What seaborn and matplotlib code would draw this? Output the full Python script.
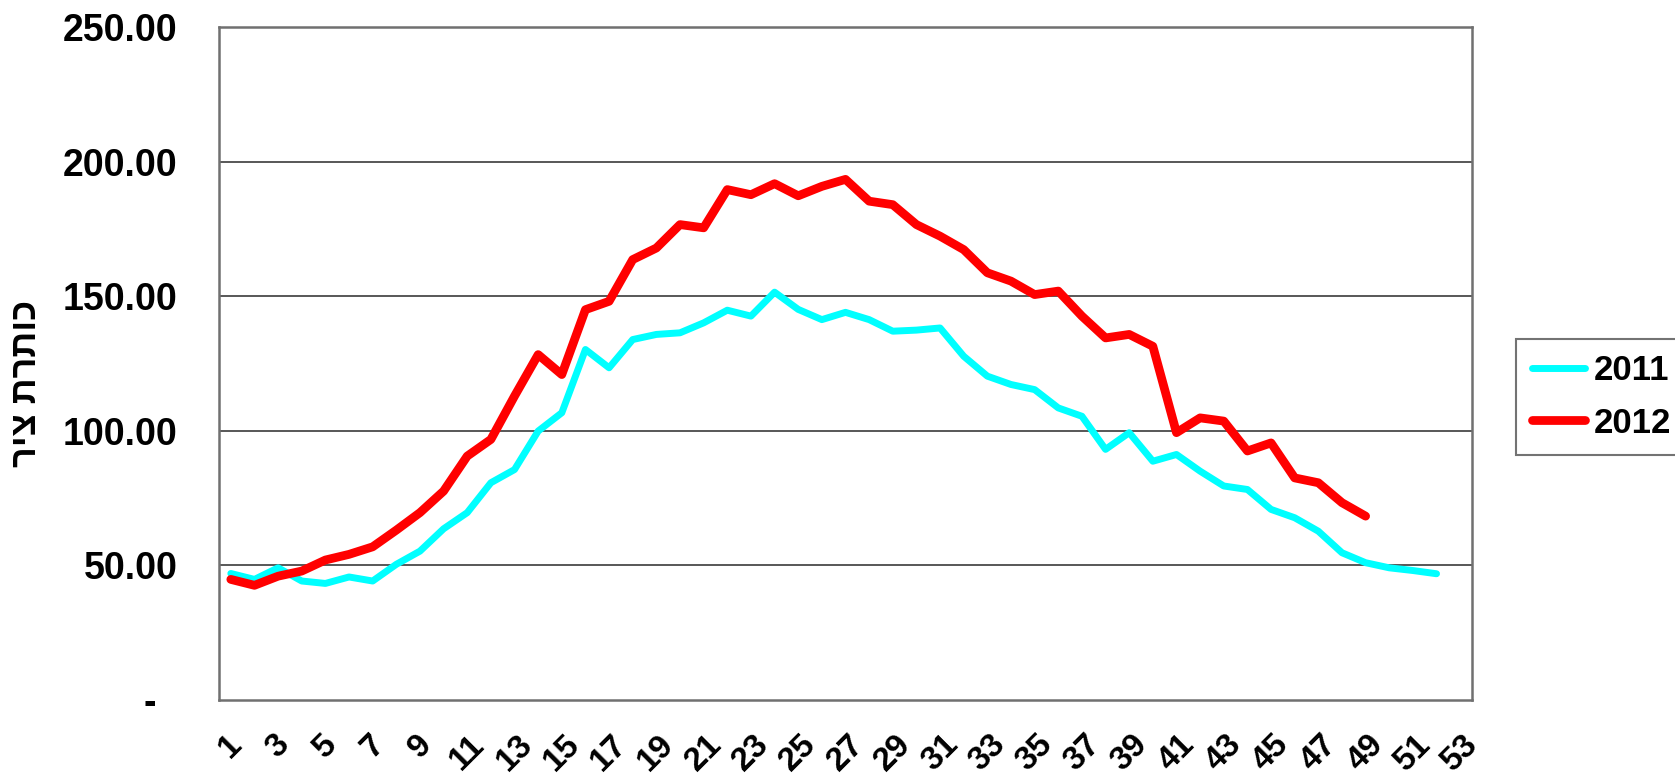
import numpy as np
import pandas as pd
import matplotlib
matplotlib.use("Agg")
import matplotlib.pyplot as plt
import seaborn as sns

weeks_2011 = list(range(1, 53))
values_2011 = [47.0, 44.8, 49.1, 44.2, 43.3, 45.7, 44.2, 50.4, 55.3, 63.6,
               69.6, 80.7, 85.6, 99.9, 106.7, 130.2, 123.4, 133.9, 135.8, 136.4,
               140.1, 144.8, 142.6, 151.5, 145.1, 141.3, 144.0, 141.3, 137.0, 137.4,
               138.2, 127.7, 120.3, 117.2, 115.3, 108.5, 105.4, 93.1, 99.3, 88.7,
               91.2, 85.0, 79.5, 78.2, 70.8, 67.7, 62.7, 54.7, 51.0, 49.1,
               48.1, 46.9]
weeks_2012 = list(range(1, 50))
values_2012 = [44.8, 42.6, 46.0, 47.9, 52.0, 54.1, 56.9, 63.1, 69.6, 77.6,
               90.6, 96.8, 112.9, 128.3, 120.9, 145.0, 148.1, 163.6, 167.9, 176.6,
               175.4, 189.6, 187.7, 191.8, 187.3, 190.8, 193.4, 185.3, 184.0, 176.6,
               172.3, 167.3, 158.7, 155.6, 150.6, 151.9, 142.6, 134.5, 135.8, 131.4,
               99.3, 104.8, 103.6, 92.5, 95.5, 82.5, 80.7, 73.3, 68.3]
series_names = ["2011", "2012"]
series_colors = ["#00FFFF", "#FF0000"]
x_tick_labels = [str(i) for i in range(1, 54, 2)]
y_ticks = [0, 50, 100, 150, 200, 250]
y_tick_labels = ["-  ", "50.00", "100.00", "150.00", "200.00", "250.00"]
y_title = "כותרת ציר"

sns.set_theme(style="white")
plt.rcParams["font.family"] = ["Liberation Sans", "DejaVu Sans"]
plt.rcParams["font.weight"] = "bold"
plt.rcParams["text.color"] = "black"
plt.rcParams["xtick.color"] = "black"
plt.rcParams["ytick.color"] = "black"
plt.rcParams["axes.labelcolor"] = "black"

df = pd.concat([
    pd.DataFrame({"week": weeks_2011, "value": values_2011, "year": "2011"}),
    pd.DataFrame({"week": weeks_2012, "value": values_2012, "year": "2012"}),
])

fig = plt.figure(figsize=(16.75, 7.76), dpi=100)
ax = fig.add_axes([219 / 1675, 1 - 700 / 776, (1472 - 219) / 1675, (700 - 27) / 776])

for name, col, lw in zip(series_names, series_colors, [5.0, 6.3]):
    sns.lineplot(data=df[df["year"] == name], x="week", y="value", color=col,
                 linewidth=lw, ax=ax, label=name, sort=False,
                 solid_capstyle="round", solid_joinstyle="round")

ax.set_xlim(0.5, 53.5)
ax.set_ylim(0, 250)
ax.set_yticks(y_ticks)
ax.set_yticklabels(y_tick_labels, fontsize=27, fontweight="bold", color="black")
ax.set_xticks(list(range(1, 54, 2)))
ax.set_xticklabels(x_tick_labels, fontsize=24, fontweight="bold", rotation=45,
                   ha="center", va="top", color="black")
ax.tick_params(axis="y", length=0, pad=30)
ax.tick_params(axis="x", length=0, pad=21)
ax.set_xlabel("")
ax.set_ylabel(y_title[::-1], fontsize=26, fontweight="bold", color="black")
ax.yaxis.set_label_coords(-0.140, 0.47)

for v in [50, 100, 150, 200]:
    ax.axhline(v, color="#4a4a4a", linewidth=1.3, zorder=0)
for s in ax.spines.values():
    s.set_color("#707070")
    s.set_linewidth(1.8)

leg = ax.legend(loc="center left", bbox_to_anchor=(1516 / 1675, 1 - 397 / 776),
                bbox_transform=fig.transFigure, frameon=True, fancybox=False,
                fontsize=25, handlelength=1.55, handletextpad=0.25,
                borderpad=0.45, labelspacing=0.55, borderaxespad=0)
leg.get_frame().set_edgecolor("#505050")
leg.get_frame().set_linewidth(1.5)
for t in leg.get_texts():
    t.set_fontweight("bold")
    t.set_color("black")

fig.savefig("out.png", dpi=100)
